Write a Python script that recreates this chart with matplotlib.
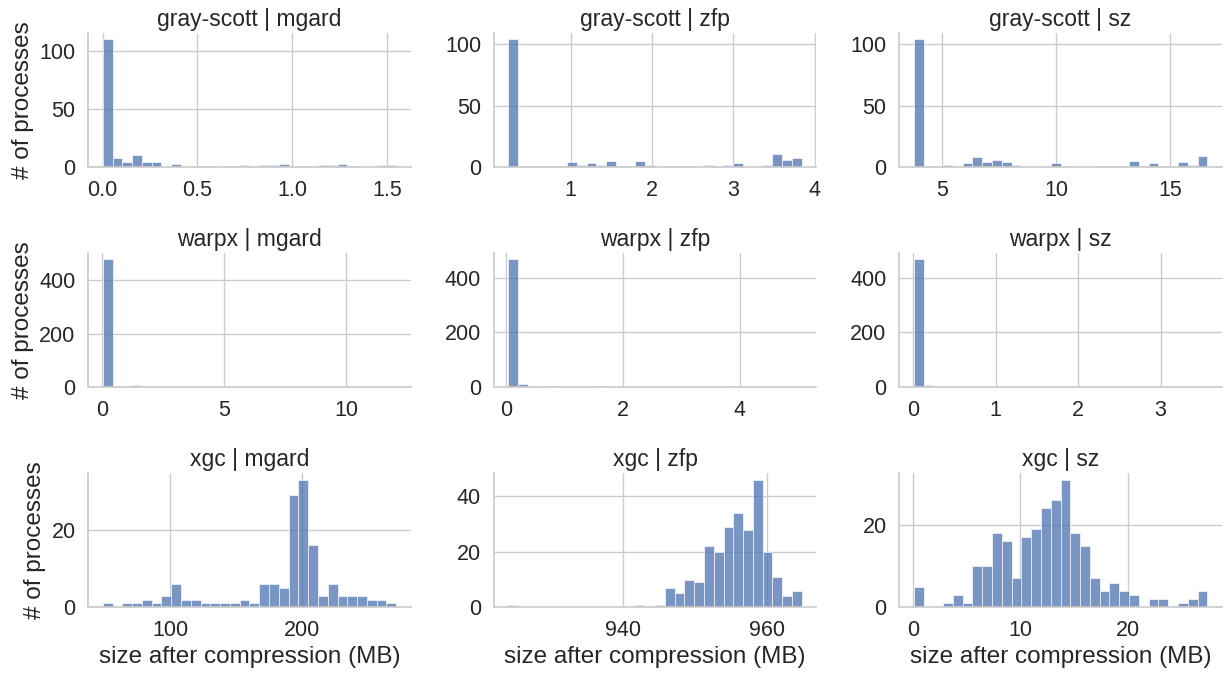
import matplotlib
matplotlib.use("Agg")
import matplotlib.pyplot as plt
from matplotlib.ticker import MultipleLocator
import numpy as np
import seaborn as sns

apps = ["gray-scott", "warpx", "xgc"]
compressors = ["mgard", "zfp", "sz"]

# data range (min, max) of each panel, 30 bins each
ranges = {
    ("gray-scott", "mgard"): (0.0, 1.55),
    ("gray-scott", "zfp"): (0.233, 3.84),
    ("gray-scott", "sz"): (3.74, 16.64),
    ("warpx", "mgard"): (0.034, 12.06),
    ("warpx", "zfp"): (0.039, 5.06),
    ("warpx", "sz"): (0.0085, 3.567),
    ("xgc", "mgard"): (48.8, 271.0),
    ("xgc", "zfp"): (924.0, 964.9),
    ("xgc", "sz"): (0.09, 27.35),
}

counts_gs_mgard = [110, 8, 4, 10, 4, 4, 0, 3, 0, 1, 1, 0, 0, 1, 2, 1, 2, 2, 3, 0,
                   1, 0, 2, 2, 3, 1, 0, 0, 2, 2]
counts_gs_zfp = [104, 1, 1, 0, 1, 1, 4, 2, 3, 2, 5, 1, 1, 5, 2, 0, 1, 0, 1, 0,
                 2, 0, 2, 3, 0, 0, 2, 11, 6, 7]
counts_gs_sz = [104, 1, 0, 2, 0, 3, 8, 4, 6, 4, 2, 0, 0, 0, 3, 1, 0, 0, 0, 1,
                1, 1, 5, 0, 3, 1, 1, 4, 2, 9]
counts_wx_mgard = [478, 0, 0, 7, 0, 0, 0, 0, 0, 0, 0, 0, 0, 0, 0, 0, 0, 0, 0, 0,
                   0, 0, 0, 0, 0, 0, 0, 0, 0, 1]
counts_wx_zfp = [466, 10, 0, 0, 3, 0, 0, 0, 0, 3, 0, 0, 0, 0, 0, 0, 0, 0, 0, 0,
                 0, 0, 0, 3, 0, 0, 0, 0, 0, 1]
counts_wx_sz = [466, 7, 0, 0, 0, 0, 0, 0, 0, 0, 0, 0, 2, 0, 0, 0, 0, 0, 0, 0,
                0, 0, 0, 0, 0, 0, 0, 0, 0, 1]
counts_xgc_mgard = [1, 0, 1, 1, 2, 1, 3, 6, 2, 2, 1, 1, 1, 1, 2, 1, 6, 6, 5, 29,
                    33, 16, 3, 6, 3, 3, 3, 2, 2, 1]
counts_xgc_zfp = [1, 0, 0, 0, 0, 0, 0, 0, 0, 0, 0, 0, 0, 1, 0, 1, 7, 5, 10, 9,
                  22, 20, 29, 34, 28, 46, 20, 11, 4, 6]
counts_xgc_sz = [5, 0, 0, 1, 3, 1, 10, 10, 18, 16, 7, 17, 19, 24, 26, 31, 18, 15, 7, 4,
                 6, 4, 3, 0, 2, 2, 0, 1, 2, 4]

counts = {
    ("gray-scott", "mgard"): counts_gs_mgard,
    ("gray-scott", "zfp"): counts_gs_zfp,
    ("gray-scott", "sz"): counts_gs_sz,
    ("warpx", "mgard"): counts_wx_mgard,
    ("warpx", "zfp"): counts_wx_zfp,
    ("warpx", "sz"): counts_wx_sz,
    ("xgc", "mgard"): counts_xgc_mgard,
    ("xgc", "zfp"): counts_xgc_zfp,
    ("xgc", "sz"): counts_xgc_sz,
}

x_tick_step = {
    ("gray-scott", "mgard"): 0.5, ("gray-scott", "zfp"): 1, ("gray-scott", "sz"): 5,
    ("warpx", "mgard"): 5, ("warpx", "zfp"): 2, ("warpx", "sz"): 1,
    ("xgc", "mgard"): 100, ("xgc", "zfp"): 20, ("xgc", "sz"): 10,
}
y_tick_step = {"gray-scott": 50, "warpx": 200, "xgc": 20}

sns.set_theme(style="whitegrid")
plt.rcParams["font.family"] = ["Liberation Sans", "DejaVu Sans"]
TICK_FS = 15.5
TITLE_FS = 16.5
LABEL_FS = 17.5

fig, axes = plt.subplots(3, 3, figsize=(12.28, 6.73), dpi=100)
fig.subplots_adjust(left=0.0717, right=0.9951, bottom=0.0976, top=0.951,
                    wspace=0.256, hspace=0.642)

nbins = 30
for i, app in enumerate(apps):
    for j, comp in enumerate(compressors):
        ax = axes[i, j]
        lo, hi = ranges[(app, comp)]
        edges = np.linspace(lo, hi, nbins + 1)
        centers = (edges[:-1] + edges[1:]) / 2
        ax.hist(centers, bins=edges, weights=counts[(app, comp)],
                color="#4c72b0", alpha=0.75, edgecolor="white", linewidth=0.6)
        ax.xaxis.set_major_locator(MultipleLocator(x_tick_step[(app, comp)]))
        ax.yaxis.set_major_locator(MultipleLocator(y_tick_step[app]))
        ax.tick_params(labelsize=TICK_FS, pad=3)
        ax.set_title(f"{app} | {comp}", fontsize=TITLE_FS, pad=5)
        for s in ["top", "right"]:
            ax.spines[s].set_visible(False)
        if j == 0:
            ax.set_ylabel("# of processes", fontsize=LABEL_FS)
        if i == 2:
            ax.set_xlabel("size after compression (MB)", fontsize=LABEL_FS)

fig.savefig("out.png", dpi=100)
